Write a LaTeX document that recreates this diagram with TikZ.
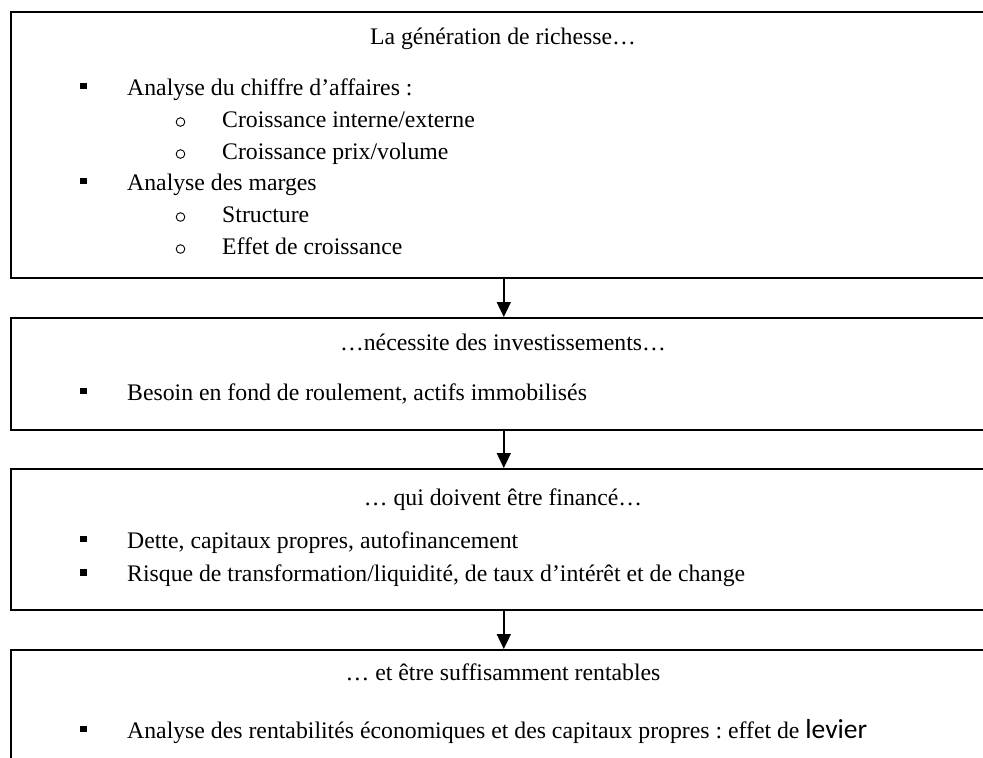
\documentclass[tikz,border=0pt]{standalone}
\usepackage{fontspec}
\setmainfont{Liberation Serif}
\newfontfamily\calibrifont{Carlito}
\usetikzlibrary{arrows.meta}
\frenchspacing
\begin{document}
\begin{tikzpicture}[x=1pt,y=-1pt,
  box/.style={draw, line width=1.6pt, rectangle, inner sep=0pt, anchor=north west, minimum width=986pt},
  txt/.style={anchor=base west, inner sep=0pt, font=\fontsize{23.75}{28}\selectfont},
  ttl/.style={anchor=base, inner sep=0pt, font=\fontsize{23.75}{28}\selectfont},
  bul/.style={fill, rectangle, minimum size=6.8pt, inner sep=0pt},
  sub/.style={draw, circle, line width=0.9pt, minimum size=8.6pt, inner sep=0pt},
  arr/.style={-{Triangle[width=14pt,length=15pt]}, line width=1.8pt}]
\clip (0,0) rectangle (983,758);
\useasboundingbox (0,0) rectangle (983,758);

% boxes
\node[box, minimum height=266pt] (b1) at (10,11) {};
\node[box, minimum height=112pt] (b2) at (10,317) {};
\node[box, minimum height=141pt] (b3) at (10,468) {};
\node[box, minimum height=160pt] (b4) at (10,649) {};

% arrows
\draw[arr] (b1.south) -- (b2.north);
\draw[arr] (b2.south) -- (b3.north);
\draw[arr] (b3.south) -- (b4.north);

% box 1
\node[ttl] (t1) at (503,44.5) {La génération de richesse…};
\node[bul] (p11) at (83.5,86) {};
\node[txt] (l11) at (127,95) {Analyse du chiffre d’affaires :};
\node[sub] (o11) at (180.5,122) {};
\node[txt] (l12) at (222,127) {Croissance interne/externe};
\node[sub] (o12) at (180.5,154) {};
\node[txt] (l13) at (222,159) {Croissance prix/volume};
\node[bul] (p12) at (83.5,181) {};
\node[txt] (l14) at (127,190) {Analyse des marges};
\node[sub] (o13) at (180.5,217) {};
\node[txt] (l15) at (222,222) {Structure};
\node[sub] (o14) at (180.5,249) {};
\node[txt] (l16) at (222,254) {Effet de croissance};

% box 2
\node[ttl] (t2) at (503,350) {…nécessite des investissements…};
\node[bul] (p21) at (83.5,391) {};
\node[txt] (l21) at (127,400) {Besoin en fond de roulement, actifs immobilisés};

% box 3
\node[ttl] (t3) at (503,505) {… qui doivent être financé…};
\node[bul] (p31) at (83.5,539) {};
\node[txt] (l31) at (127,548) {Dette, capitaux propres, autofinancement};
\node[bul] (p32) at (83.5,572.5) {};
\node[txt] (l32) at (127,581.5) {Risque de transformation/liquidité, de taux d’intérêt et de change};

% box 4
\node[ttl] (t4) at (503,680.5) {… et être suffisamment rentables};
\node[bul] (p41) at (83.5,729) {};
\node[txt] (l41) at (127,738) {Analyse des rentabilités économiques et des capitaux propres : effet de {\calibrifont\fontsize{27.5}{30}\selectfont levier}};
\end{tikzpicture}
\end{document}
